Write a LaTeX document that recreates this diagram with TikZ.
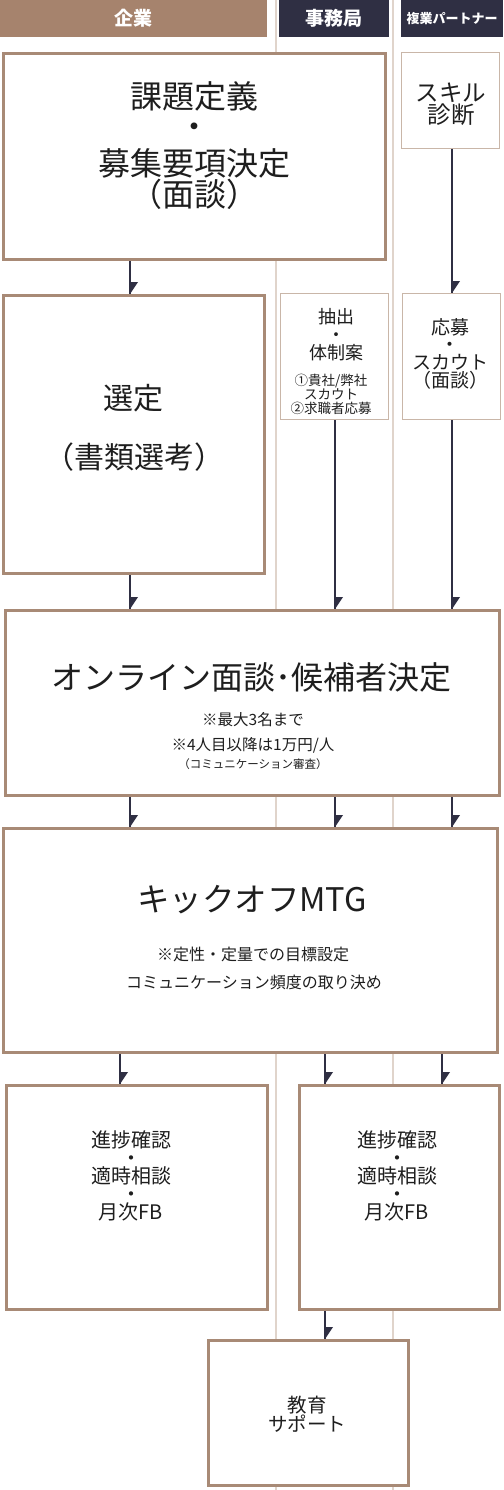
\documentclass[tikz,border=0pt]{standalone}
\usepackage{fontspec}
\setmainfont{Noto Sans CJK JP}
\usetikzlibrary{decorations.markings}
\definecolor{hbrown}{HTML}{A6836D}
\definecolor{bbrown}{HTML}{A88A76}
\definecolor{tbrown}{HTML}{C9B6A8}
\definecolor{navy}{HTML}{2F2F43}
\definecolor{lanecol}{HTML}{E0D4CB}
\definecolor{inkcol}{HTML}{1E1E1E}
\newcommand\fsz[1]{\fontsize{#1}{#1}\selectfont}
\newcommand\fsk[2]{\fontsize{#1}{#2}\selectfont}
\tikzset{
  hdr/.style={fill=#1, text=white, inner sep=0pt, minimum height=37pt},
  thickbox/.style={draw=bbrown, line width=3pt, fill=white, inner sep=0pt},
  thinbox/.style={draw=tbrown, line width=1pt, fill=white, inner sep=0pt},
  txt/.style={text=inkcol, inner sep=0pt, align=center},
  laneline/.style={draw=lanecol, line width=1.2pt},
  conn/.style={draw=navy, line width=1.5pt, postaction={decorate},
    decoration={markings, mark=at position 1 with {\fill[navy] (0pt,0pt) -- (-12pt,0pt) -- (-12pt,8pt) -- cycle;}}}
}
\begin{document}
\begin{tikzpicture}[x=1pt,y=-1pt]
\useasboundingbox[fill=white] (0,0) rectangle (503,1490);
% lane lines
\coordinate (l1t) at (276,0); \coordinate (l1b) at (276,1490);
\coordinate (l2t) at (393,0); \coordinate (l2b) at (393,1490);
\draw[laneline] (l1t) -- (l1b);
\draw[laneline] (l2t) -- (l2b);
% headers
\node[hdr=hbrown, minimum width=267pt, font=\fsz{19}\bfseries] (h1) at (133.5,18.5) {企業};
\node[hdr=navy, minimum width=110pt, font=\fsz{19}\bfseries] (h2) at (334,18.5) {事務局};
\node[hdr=navy, minimum width=102pt, font=\fsz{13}\bfseries] (h3) at (452,18.5) {複業パートナー};
% boxes
\node[thickbox, minimum width=382pt, minimum height=206pt] (b1) at (194.5,156.5) {};
\node[thinbox, minimum width=98pt, minimum height=96pt] (skill) at (450.5,100.5) {};
\node[thickbox, minimum width=261pt, minimum height=278pt] (sel) at (134,434.5) {};
\node[thinbox, minimum width=108pt, minimum height=126pt] (ext) at (334.5,356.5) {};
\node[thinbox, minimum width=98pt, minimum height=126pt] (app) at (451.5,356.5) {};
\node[thickbox, minimum width=494pt, minimum height=185pt] (onl) at (252.5,703) {};
\node[thickbox, minimum width=494pt, minimum height=224pt] (ko) at (250.5,940.5) {};
\node[thickbox, minimum width=261pt, minimum height=224pt] (pl) at (137,1197.5) {};
\node[thickbox, minimum width=200pt, minimum height=224pt] (pr) at (399.5,1197.5) {};
\node[thickbox, minimum width=200pt, minimum height=145pt] (edu) at (308.5,1413) {};
% texts
\node[txt, font=\fsk{32}{30}] (b1ta) at (194,110) {課題定義\\・};
\node[txt, font=\fsk{32}{28}] (b1tb) at (194,179) {募集要項決定\\（面談）};
\node[txt, font=\fsk{23.5}{22}] (skt) at (451,104) {スキル\\診断};
\node[txt, font=\fsz{30}] (selt1) at (133,398) {選定};
\node[txt, font=\fsz{30}] (selt2) at (134,457) {（書類選考）};
\node[txt, font=\fsk{18}{18}] (exta) at (336,335) {抽出\\・\\体制案};
\node[txt, font=\fsk{13.5}{14}] (extb) at (331,394) {①貴社/弊社\\スカウト\\②求職者応募};
\node[txt, font=\fsk{19}{17.7}] (appt) at (450,353.5) {応募\\・\\スカウト\\（面談）};
\node[txt, font=\fsz{32}] (onl1) at (251,677) {オンライン面談･候補者決定};
\node[txt, font=\fsk{15.5}{25}] (onl2) at (253,732.5) {※最大3名まで\\※4人目以降は1万円/人};
\node[txt, font=\fsz{11.5}] (onl4) at (253,764) {（コミュニケーション審査）};
\node[txt, font=\fsz{32.5}] (ko1) at (252,900) {キックオフMTG};
\node[txt, font=\fsz{16}] (ko2) at (253,954) {※定性・定量での目標設定};
\node[txt, font=\fsz{16}] (ko3) at (254,982) {コミュニケーション頻度の取り決め};
\node[txt, font=\fsk{20}{18}] (plt) at (131,1176) {進捗確認\\・\\適時相談\\・\\月次FB};
\node[txt, font=\fsk{20}{18}] (prt) at (397,1176) {進捗確認\\・\\適時相談\\・\\月次FB};
\node[txt, font=\fsk{19.5}{17}] (edut) at (307,1414.5) {教育\\サポート};
% connectors
\coordinate (cA) at (130,0);
\coordinate (cB) at (335,0);
\coordinate (cC) at (452,0);
\coordinate (cD) at (120,0);
\coordinate (cE) at (325,0);
\coordinate (cF) at (442,0);
\draw[conn] (b1.south -| cA) -- (sel.north -| cA);
\draw[conn] (skill.south -| cC) -- (app.north -| cC);
\draw[conn] (sel.south -| cA) -- (onl.north -| cA);
\draw[conn] (ext.south -| cB) -- (onl.north -| cB);
\draw[conn] (app.south -| cC) -- (onl.north -| cC);
\draw[conn] (onl.south -| cA) -- (ko.north -| cA);
\draw[conn] (onl.south -| cB) -- (ko.north -| cB);
\draw[conn] (onl.south -| cC) -- (ko.north -| cC);
\draw[conn] (ko.south -| cD) -- (pl.north -| cD);
\draw[conn] (ko.south -| cE) -- (pr.north -| cE);
\draw[conn] (ko.south -| cF) -- (pr.north -| cF);
\draw[conn] (pr.south -| cE) -- (edu.north -| cE);
\end{tikzpicture}
\end{document}
